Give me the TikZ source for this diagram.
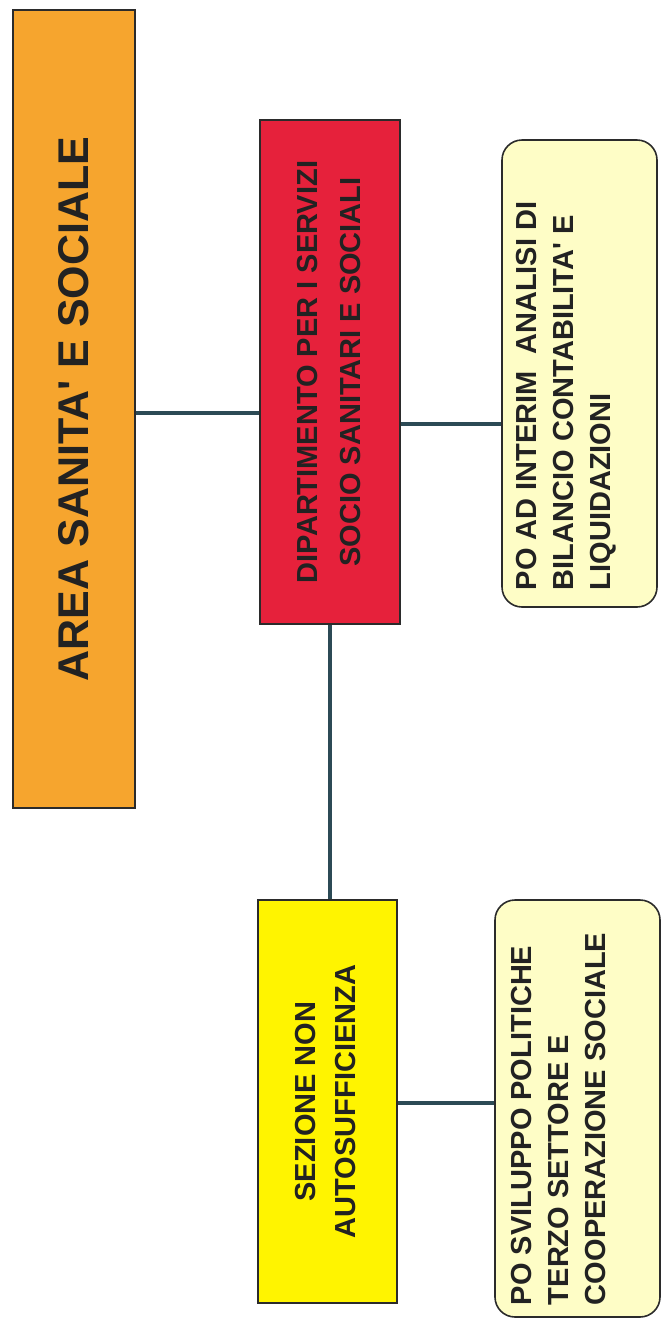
\documentclass[tikz,border=0pt]{standalone}
\usepackage{fontspec}
\setmainfont{Liberation Sans}
\definecolor{areaorange}{HTML}{F6A52E}
\definecolor{dipred}{HTML}{E6213B}
\definecolor{sezyellow}{HTML}{FFF400}
\definecolor{pale}{HTML}{FEFDC6}
\definecolor{boxline}{HTML}{2B2B2B}
\definecolor{connline}{HTML}{2C4A55}
\definecolor{txt}{HTML}{222222}
\begin{document}
\begin{tikzpicture}[x=1pt,y=-1pt,
  box/.style={draw=boxline, line width=1.6pt, inner sep=0pt, text=txt, font=\bfseries},
  pobox/.style={box, rounded corners=20pt, fill=pale},
  conn/.style={draw=connline, line width=4pt}]
\useasboundingbox (0,0) rectangle (661,1318);

% area
\node[box, fill=areaorange, minimum width=122, minimum height=798] (area) at (74,409)
  {\rotatebox{90}{\fontsize{43}{50}\selectfont AREA SANITA\textquotesingle{} E SOCIALE}};

% department
\node[box, fill=dipred, minimum width=140, minimum height=504] (dip) at (330,372)
  {\rotatebox{90}{\fontsize{29}{43}\selectfont\begin{tabular}{@{}c@{}}DIPARTIMENTO PER I SERVIZI\\SOCIO SANITARI E SOCIALI\end{tabular}}};

% PO under the department
\node[pobox, minimum width=155, minimum height=467] (po1) at (579.5,373.5)
  {\rotatebox{90}{\parbox[c][155pt][t]{467pt}{\fontsize{29}{37}\selectfont\raggedright\leftskip=17pt
   \vspace*{14pt}PO AD INTERIM\ \ ANALISI DI\\BILANCIO CONTABILITA\textquotesingle{} E\\LIQUIDAZIONI}}};

% section
\node[box, fill=sezyellow, minimum width=139, minimum height=403] (sez) at (327.5,1101.5)
  {\rotatebox{90}{\fontsize{29}{40}\selectfont\begin{tabular}{@{}c@{}}SEZIONE NON\\AUTOSUFFICIENZA\end{tabular}}};

% PO under the section
\node[pobox, minimum width=165, minimum height=417] (po2) at (577.5,1108.5)
  {\rotatebox{90}{\parbox[c][165pt][t]{417pt}{\fontsize{29}{37}\selectfont\raggedright\leftskip=12pt
   \vspace*{16pt}PO SVILUPPO POLITICHE\\TERZO SETTORE E\\COOPERAZIONE SOCIALE}}};

% connectors
\coordinate (r1) at (0,413);
\coordinate (r2) at (0,424);
\coordinate (r3) at (0,1103);
\draw[conn] (area.east |- r1) -- (dip.west |- r1);
\draw[conn] (dip.east |- r2) -- (po1.west |- r2);
\draw[conn] (dip.south) -- (dip.south |- sez.north);
\draw[conn] (sez.east |- r3) -- (po2.west |- r3);
\end{tikzpicture}
\end{document}
